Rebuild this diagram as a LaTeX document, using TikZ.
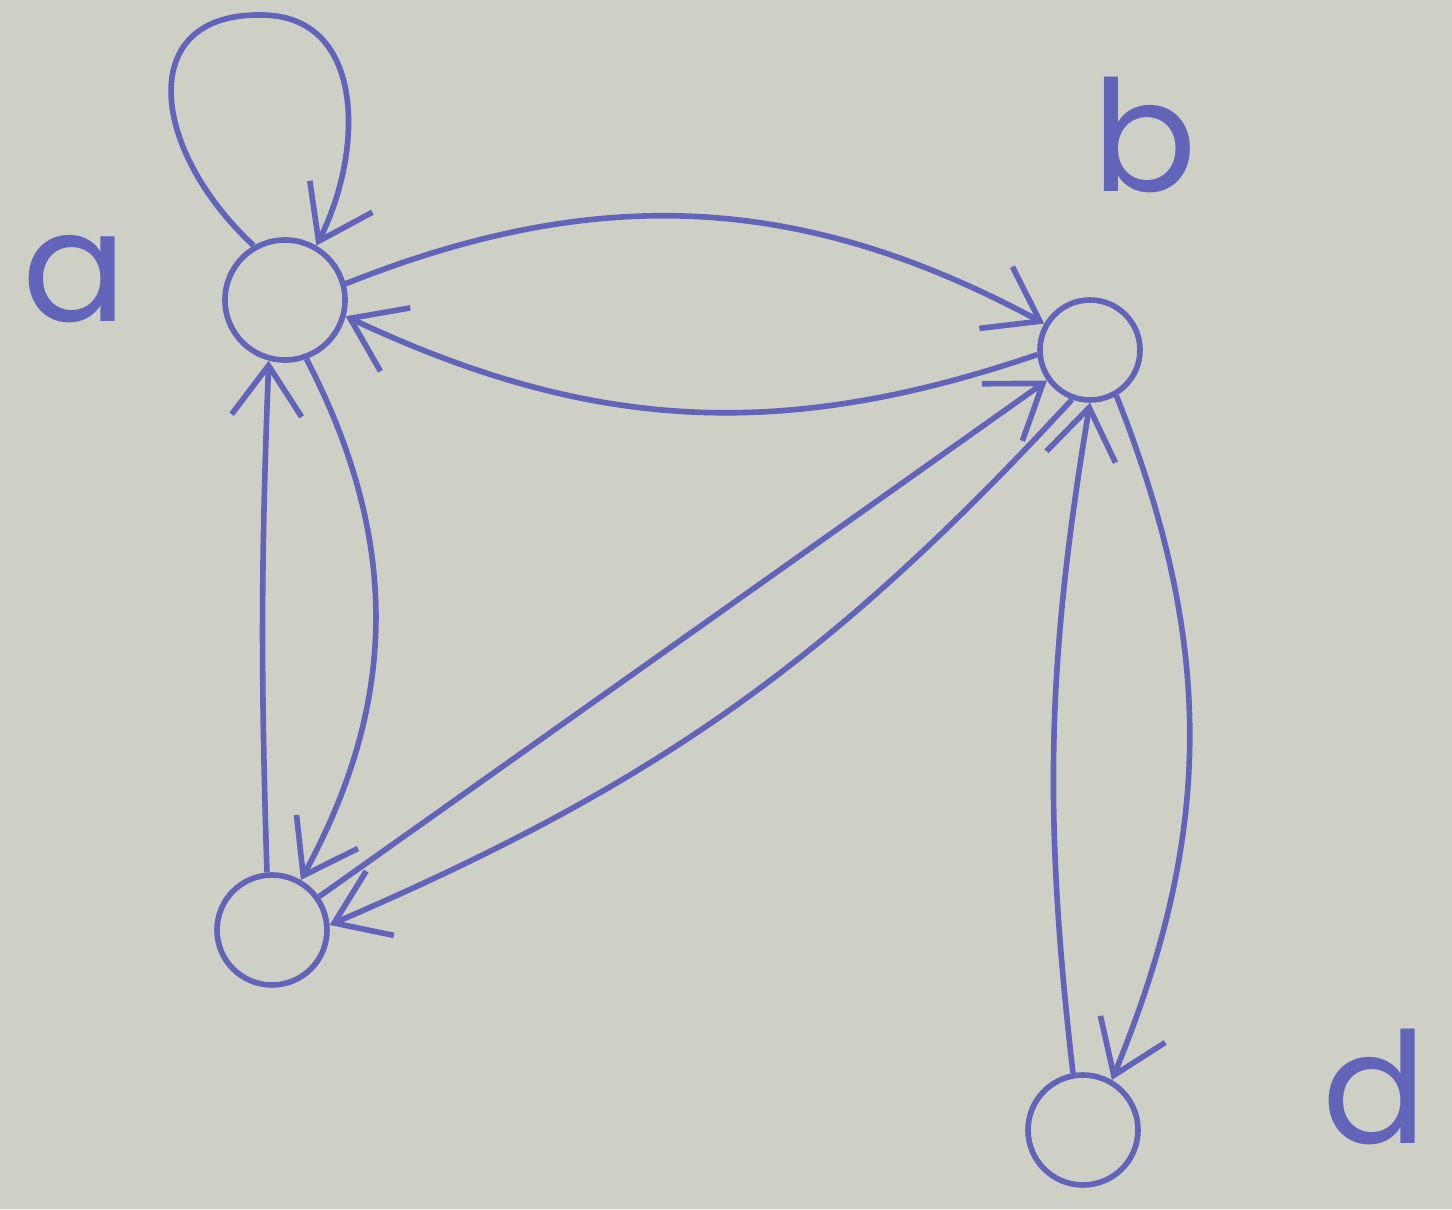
\documentclass[tikz,border=0pt]{standalone}
\usepackage{fontspec}
\newfontfamily\handfont{Poppins}
\usetikzlibrary{arrows.meta,positioning}
\definecolor{ink}{RGB}{98,100,186}
\definecolor{paper}{RGB}{206,208,198}
\tikzstyle{vertex}=[draw=ink,circle,minimum size=11mm,inner sep=0pt,line width=1.6pt]
\tikzstyle{letter}=[text=ink,inner sep=0pt,font=\handfont\fontsize{44}{50}\selectfont]
\tikzstyle{barb}=[-{Straight Barb[length=5mm,width=7mm]}]

\begin{document}
\begin{tikzpicture}[line width=1.6pt,
every edge/.style = {draw=ink, line width=1.6pt, barb}]
\fill[paper] (0,0) rectangle (14.52,12.09);
\useasboundingbox (0,0) rectangle (14.52,12.09);
% vertices
\node [vertex,minimum size=12mm] (a) at (2.85,9.09) {};
\node [vertex,minimum size=10mm] (b) at (10.90,8.59) {};
\node [vertex] (c) at (2.72,2.79) {};
\node [vertex] (d) at (10.83,0.79) {};
% labels
\node [letter] (la) at (0.75,9.30) {a};
\node [letter] (lb) at (11.45,10.74) {b};
\node [letter] (ld) at (13.75,1.22) {d};
% loop on a
\draw [draw=ink,barb] (a.120) .. controls (1.5,10.6) and (1.35,11.95) .. (2.6,11.94)
    .. controls (3.65,11.95) and (3.65,10.6) .. (a.60);
% edges
\draw (a.15) edge[bend left=25] (b.150)
      (b.185) edge[bend left=22] (a.-15)
      (c.95) edge[bend left=2] (a.-105)
      (a.-70) edge[bend left=28] (c.60)
      (c) edge (b)
      (b.-110) edge[bend left=12] (c.5)
      (d.100) edge[bend left=8] (b.-90)
      (b.-60) edge[bend left=22] (d.60);
\end{tikzpicture}
\end{document}
